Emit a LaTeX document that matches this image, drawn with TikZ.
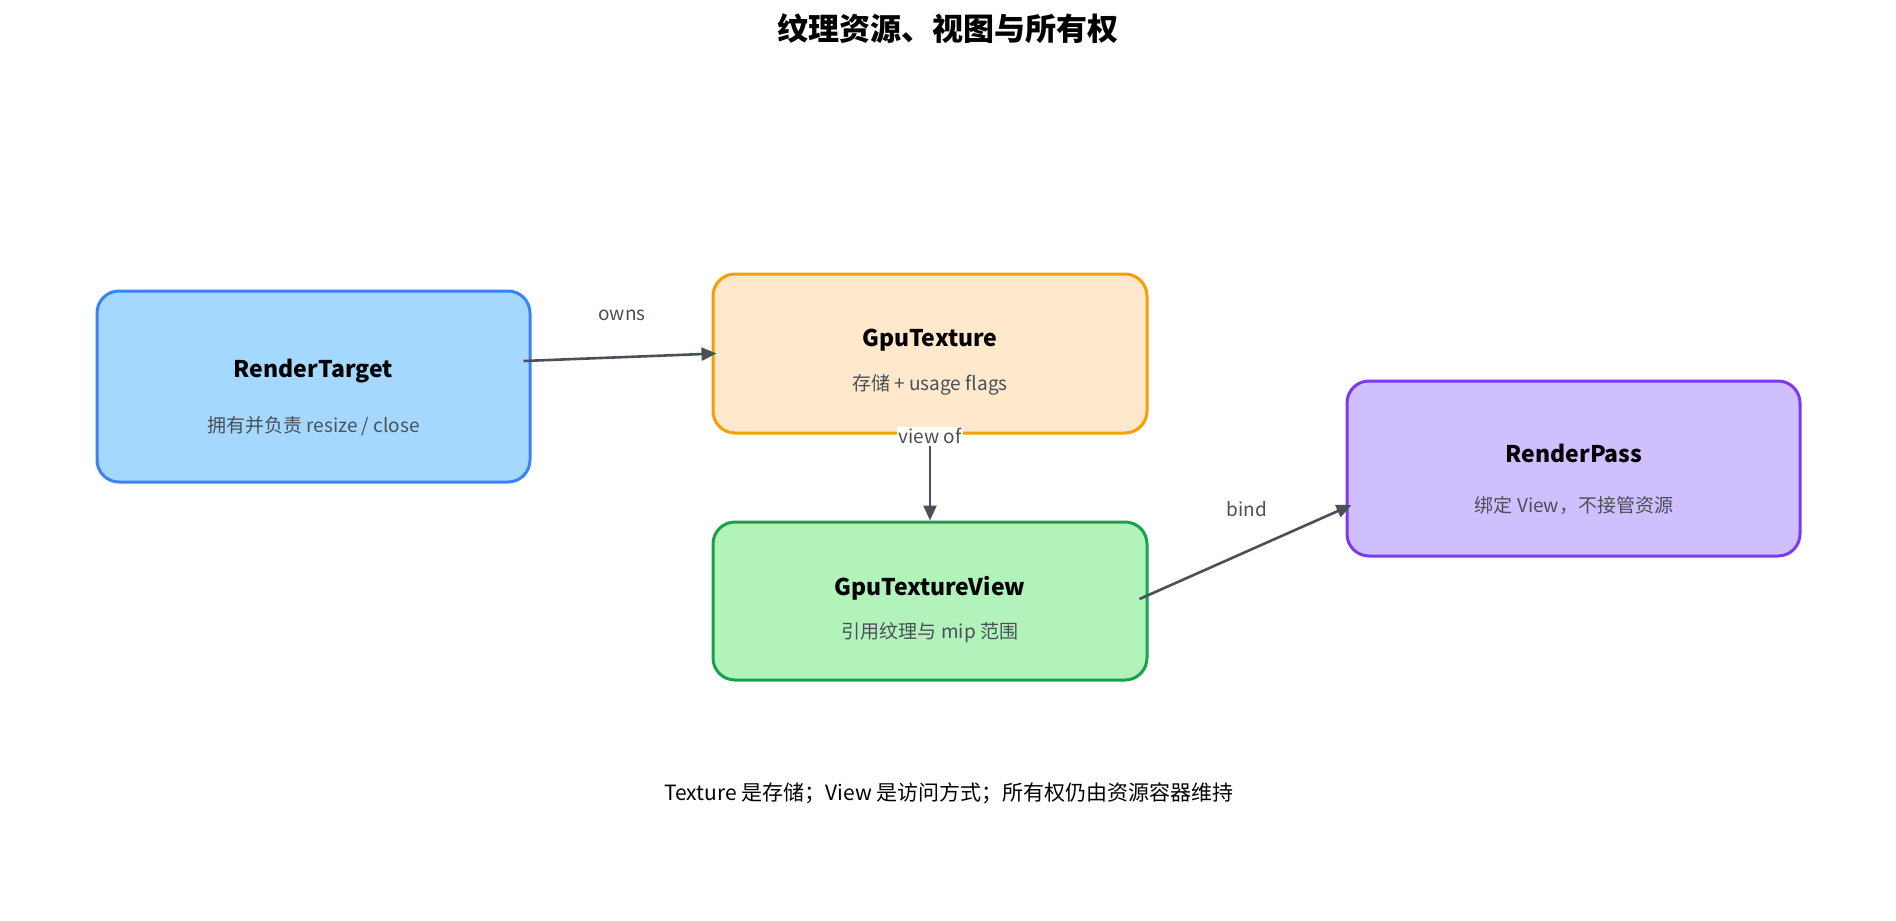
\documentclass[tikz,border=0pt]{standalone}
\usepackage{fontspec}
\setmainfont{Noto Sans CJK SC}
\usetikzlibrary{shapes,positioning,arrows.meta}
\definecolor{rtfill}{HTML}{A5D8FF}
\definecolor{rtdraw}{HTML}{3B82F6}
\definecolor{gtfill}{HTML}{FFE8CC}
\definecolor{gtdraw}{HTML}{F59F00}
\definecolor{gvfill}{HTML}{B2F2BB}
\definecolor{gvdraw}{HTML}{16A34A}
\definecolor{rpfill}{HTML}{D0BFFF}
\definecolor{rpdraw}{HTML}{7C3AED}
\definecolor{linkgray}{HTML}{495057}

\begin{document}
\begin{tikzpicture}[x=0.5pt,y=-0.5pt,
  box/.style={draw,rounded corners=11pt,line width=1.5pt,inner sep=0pt},
  boxtitle/.style={inner sep=0.75pt,font=\fontsize{11.5}{14}\selectfont\bfseries},
  boxsub/.style={inner sep=0.75pt,text=linkgray,font=\fontsize{9.5}{12}\selectfont},
  link/.style={draw=linkgray,line width=1.3pt,-{Triangle[length=7.5pt,width=6.5pt]}},
  linklabel/.style={inner sep=0.75pt,text=linkgray,font=\fontsize{9.5}{12}\selectfont}]
\useasboundingbox (0,0) rectangle (1896,921);

% Title
\node[inner sep=0.75pt,font=\fontsize{15.5}{18}\selectfont\bfseries] (title) at (948,29) {纹理资源、视图与所有权};

%Shape: Rectangle [RenderTarget]
\node[box,fill=rtfill,draw=rtdraw,minimum width=216.5pt,minimum height=95.5pt] (rt) at (313.5,386.5) {};
%Shape: Rectangle [GpuTexture]
\node[box,fill=gtfill,draw=gtdraw,minimum width=217pt,minimum height=79.5pt] (gt) at (930,353.5) {};
%Shape: Rectangle [GpuTextureView]
\node[box,fill=gvfill,draw=gvdraw,minimum width=217pt,minimum height=79pt] (gv) at (930,601) {};
%Shape: Rectangle [RenderPass]
\node[box,fill=rpfill,draw=rpdraw,minimum width=226.5pt,minimum height=87.5pt] (rp) at (1573.5,468.5) {};

% Text Node
\node[boxtitle] (rtT) at (313.5,371) {RenderTarget};
\node[boxsub] (rtS) at (313.5,426) {拥有并负责 resize / close};
% Text Node
\node[boxtitle] (gtT) at (930,340) {GpuTexture};
\node[boxsub] (gtS) at (930,385) {存储 + usage flags};
% Text Node
\node[boxtitle] (gvT) at (930,588) {GpuTextureView};
\node[boxsub] (gvS) at (930,633) {引用纹理与 mip 范围};
% Text Node
\node[boxtitle] (rpT) at (1574,453) {RenderPass};
\node[boxsub] (rpS) at (1574,505) {绑定 View，不接管资源};

%Straight Lines
\draw[link] ([shift={(-8,-25.5)}]rt.east) -- ([shift={(5,0)}]gt.west)
  node[linklabel,midway,shift={(2,-41.5)}] (owns) {owns};
%Straight Lines
\draw[link] (gt.south) -- (gv.north)
  node[linklabel,pos=0.02,fill=white] (viewof) {view of};
%Straight Lines
\draw[link] ([shift={(-9,-2)}]gv.east) -- ([shift={(6,36.5)}]rp.west)
  node[linklabel,midway,shift={(1.5,-43)}] (bind) {bind};

% Text Node
\node[inner sep=0.75pt,font=\fontsize{10.5}{13}\selectfont] (note) at (949,793) {Texture 是存储；View 是访问方式；所有权仍由资源容器维持};

\end{tikzpicture}
\end{document}
